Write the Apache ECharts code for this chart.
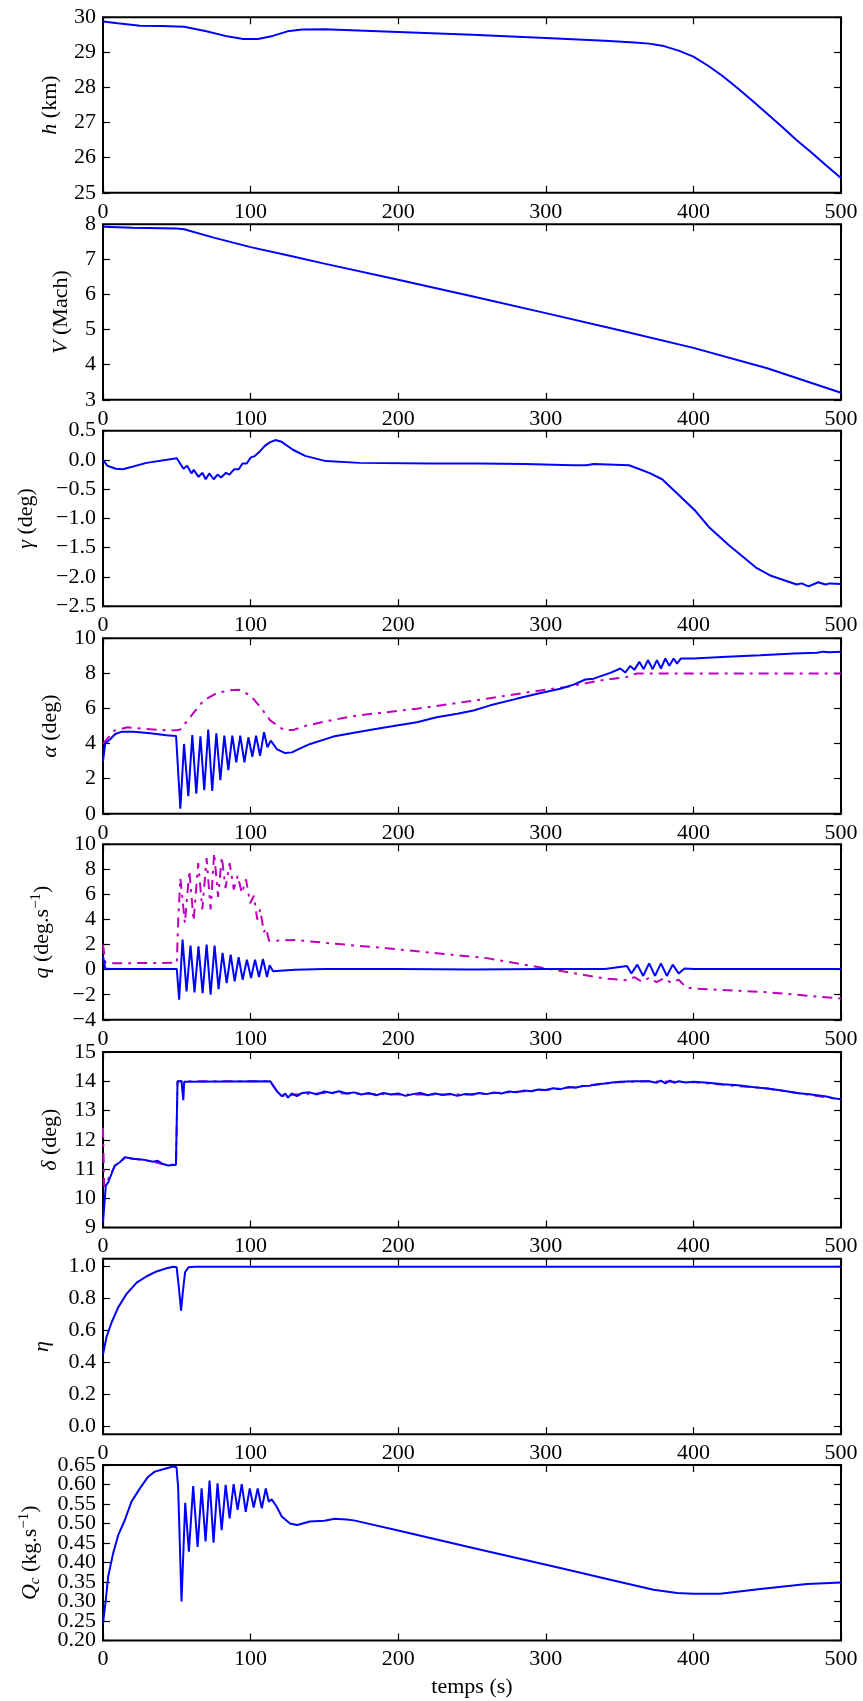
<!DOCTYPE html>
<html><head><meta charset="utf-8">
<script src="https://cdn.jsdelivr.net/npm/echarts@6/dist/echarts.min.js"></script>
<style>html,body{margin:0;padding:0;background:#fff}#c{width:863px;height:1701px}</style>
</head><body><div id="c"></div><script>
// ---------- DATA (time in s, value) ----------
const xTicks = [0, 100, 200, 300, 400, 500];

const hData = [[0,29.88],[10,29.83],[25,29.76],[40,29.75],[55,29.73],[70,29.6],[85,29.45],[95,29.38],[105,29.38],[115,29.47],[125,29.6],[135,29.65],[150,29.66],[200,29.58],[250,29.5],[300,29.41],[340,29.33],[360,29.28],[370,29.25],[380,29.18],[390,29.05],[400,28.88],[410,28.62],[420,28.32],[430,27.98],[440,27.62],[450,27.25],[460,26.88],[470,26.5],[480,26.15],[490,25.78],[500,25.42]];

const machData = [[0,7.93],[20,7.9],[50,7.88],[55,7.86],[75,7.62],[100,7.35],[125,7.12],[150,6.88],[200,6.42],[250,5.95],[300,5.47],[350,4.98],[400,4.48],[450,3.9],[500,3.2]];

const gammaData = [[0,0.0],[3,-0.1],[8.7,-0.15],[13.5,-0.16],[29.5,-0.05],[50,0.03],[54.5,-0.15],[57,-0.1],[60,-0.23],[61.5,-0.17],[64.7,-0.29],[67.3,-0.22],[69.6,-0.33],[72,-0.23],[75,-0.33],[77.6,-0.25],[80,-0.3],[83.3,-0.22],[85.6,-0.25],[88.8,-0.16],[92,-0.16],[94.5,-0.06],[97.4,-0.06],[100,0.04],[103,0.07],[106.4,0.15],[109.6,0.24],[113,0.3],[116.7,0.34],[121,0.31],[129,0.17],[137,0.07],[151,-0.02],[173.7,-0.05],[221.8,-0.06],[253.8,-0.06],[286,-0.07],[318,-0.09],[327.6,-0.09],[332.4,-0.07],[356.4,-0.09],[362.8,-0.15],[370.8,-0.23],[378.8,-0.33],[388.5,-0.56],[401.3,-0.87],[411,-1.16],[423.7,-1.45],[443,-1.85],[452.6,-1.98],[462,-2.06],[470,-2.13],[473.3,-2.11],[478,-2.16],[484.6,-2.09],[489.4,-2.13],[492.6,-2.11],[500,-2.12]];

const alphaData = [[0,3.0],[1.5,4.0],[5,4.26],[8.3,4.55],[12.8,4.68],[20.7,4.68],[32,4.59],[43,4.47],[49.5,4.44],[52.4,0.29],[54.9,3.98],[57.8,1.01],[60.5,4.49],[63.2,1.15],[66,4.42],[68.6,1.34],[71.3,4.8],[74,1.3],[76.8,4.59],[79.5,1.91],[82.2,4.45],[84.9,2.49],[87.6,4.45],[90.3,2.93],[93,4.45],[95.8,2.93],[98.5,4.36],[101.2,3.25],[103.7,4.45],[106.4,3.31],[109.1,4.65],[111.4,3.79],[113.7,4.17],[117.7,3.69],[123.4,3.46],[128,3.5],[133.6,3.73],[140.4,3.98],[156,4.4],[172,4.65],[185.6,4.84],[199,5.03],[212.7,5.22],[226,5.5],[240,5.7],[251,5.89],[262.4,6.18],[280,6.55],[295,6.85],[309.8,7.13],[318.8,7.36],[326.8,7.65],[332.4,7.7],[343.7,8.03],[350.5,8.28],[353.9,8.05],[357.2,8.43],[360,8.2],[363.4,8.66],[366.3,8.24],[369.2,8.76],[372.4,8.24],[375.3,8.76],[378,8.28],[381,8.85],[383.7,8.43],[386.6,8.85],[388.9,8.56],[391.6,8.85],[400,8.85],[422.7,8.95],[445.3,9.04],[468,9.14],[483.7,9.18],[487.9,9.24],[492,9.2],[500,9.24]];

const alphaRef = [[0,4.0],[7.6,4.74],[16.6,4.93],[27.9,4.84],[46,4.74],[50.5,4.78],[52.4,4.8],[59,5.5],[68.2,6.46],[77.2,6.88],[85,7.03],[91.9,7.07],[99.8,6.75],[106.6,6.08],[113.3,5.32],[122.4,4.78],[129,4.78],[138,5.03],[154,5.32],[172,5.6],[192.4,5.79],[212.7,5.99],[233,6.23],[260,6.56],[290,6.95],[314,7.23],[337,7.6],[355,7.8],[361.8,8.0],[500,8.0]];

const qData = [[0,1.1],[1.5,0.1],[5,0.05],[50,0.05],[51.6,-2.4],[53.9,2.4],[56.6,-1.73],[59.3,1.92],[62,-1.81],[64.7,1.87],[67.5,-1.87],[70.2,2.0],[72.9,-2.0],[75.6,1.92],[78.3,-1.55],[81,1.33],[83.8,-1.07],[86.5,1.2],[89.2,-0.93],[91.9,0.99],[94.6,-0.8],[97.5,0.8],[100.3,-0.67],[103,0.8],[105.7,-0.59],[108.4,0.85],[111.1,-0.59],[112.9,0.35],[115.2,-0.13],[120,-0.08],[130,0.0],[150,0.05],[200,0.05],[250,0.02],[300,0.05],[340,0.05],[355,0.3],[358,-0.3],[362,0.4],[366,-0.5],[370,0.5],[374,-0.5],[378,0.5],[382,-0.5],[386,0.4],[390,-0.3],[394,0.1],[400,0.05],[450,0.05],[500,0.05]];

const qRef = [[0,2.0],[1.5,0.6],[3,0.5],[50,0.55],[51,4.0],[52.4,7.3],[55.5,3.7],[58.5,7.9],[61.4,3.9],[64.5,8.5],[67.3,4.8],[70.2,8.9],[72.9,4.8],[75.3,9.3],[78,5.8],[80.5,9.0],[83,6.5],[85.8,8.5],[88.6,6.4],[91.2,7.5],[94.1,6.1],[96.9,7.2],[99.7,5.3],[102.2,5.9],[104.5,4.0],[106.5,4.8],[109,3.0],[110.5,3.3],[112.5,2.3],[115,2.3],[130,2.37],[154,2.1],[192,1.71],[226,1.31],[260,0.92],[305,0.0],[340,-0.7],[355,-0.85],[360,-0.6],[365,-0.95],[370,-0.65],[375,-1.0],[380,-0.7],[385,-1.05],[390,-0.8],[395,-1.4],[400,-1.5],[450,-1.8],[500,-2.3]];

const deltaData = [[0,9.17],[1.9,10.43],[3.5,10.54],[8,11.12],[11.4,11.23],[14.8,11.4],[20.4,11.35],[27.2,11.32],[34,11.25],[37,11.28],[40.7,11.17],[44.1,11.12],[47.5,11.14],[49.4,11.14],[50.5,14.0],[53.2,14.0],[54.4,13.35],[55,13.98],[56,14.0],[113.3,14.0],[117.8,13.66],[121.2,13.49],[123.5,13.58],[125.3,13.44],[128,13.58],[131.4,13.49],[135,13.6],[140,13.62],[145,13.55],[150,13.65],[155,13.6],[160,13.66],[165,13.58],[170,13.62],[175,13.55],[180,13.6],[185,13.52],[190,13.6],[195,13.55],[200,13.58],[205,13.5],[210,13.56],[215,13.6],[220,13.52],[225,13.58],[230,13.53],[235,13.57],[240,13.5],[245,13.56],[250,13.55],[255,13.6],[260,13.56],[265,13.62],[270,13.58],[275,13.65],[280,13.62],[285,13.68],[290,13.66],[295,13.72],[300,13.7],[305,13.76],[310,13.73],[315,13.8],[320,13.78],[325,13.84],[330,13.85],[335,13.9],[340,13.92],[345,13.96],[350,13.98],[360,14.0],[370,14.0],[375,13.95],[378,14.02],[381,13.93],[384,14.02],[387,13.95],[390,14.0],[395,13.96],[400,13.98],[410,13.95],[420,13.9],[430,13.86],[440,13.8],[450,13.75],[460,13.68],[470,13.6],[480,13.55],[490,13.48],[495,13.42],[500,13.38]];

const deltaRef = [[0,12.4],[0.8,10.4],[3,10.6],[8,11.1],[14.8,11.38],[27,11.32],[40,11.17],[49.5,11.14],[50.5,14.0],[113.3,14.0],[118,13.65],[122,13.5],[130,13.55],[150,13.6],[200,13.55],[250,13.55],[300,13.7],[350,13.97],[370,14.0],[400,13.97],[450,13.75],[500,13.38]];

const etaData = [[0,0.45],[2.4,0.56],[5.8,0.65],[10.3,0.745],[16,0.83],[22.8,0.9],[29.6,0.94],[36.3,0.97],[43.1,0.99],[47.6,1.0],[49.9,0.996],[51.5,0.86],[52.9,0.724],[54.3,0.86],[55.6,0.965],[57.9,0.996],[62,1.0],[500,1.0]];
const etaTicks = [0, 0.2, 0.4, 0.6, 0.8, 1.0];

const qcData = [[0,0.244],[1.9,0.304],[3.5,0.364],[6.9,0.424],[10.3,0.47],[14.8,0.509],[19.3,0.556],[25,0.59],[30.6,0.62],[35.1,0.633],[40.8,0.639],[47.5,0.646],[49.8,0.644],[50.9,0.594],[53.2,0.30],[55.7,0.553],[58.2,0.428],[61.1,0.596],[64.1,0.44],[66.8,0.59],[69.5,0.454],[72.2,0.61],[74.9,0.451],[77.6,0.603],[80.4,0.483],[83.1,0.599],[85.8,0.513],[88.5,0.601],[91.2,0.535],[94,0.601],[96.7,0.53],[99.4,0.59],[102.1,0.541],[104.8,0.59],[107.6,0.539],[110.3,0.59],[112.3,0.556],[114.3,0.562],[117.7,0.543],[121.1,0.518],[126.7,0.5],[131.3,0.496],[133.5,0.498],[140,0.505],[150,0.507],[157,0.512],[165,0.51],[170,0.508],[200,0.482],[250,0.438],[309.8,0.386],[343.7,0.356],[373,0.33],[388.9,0.322],[400,0.32],[418.2,0.32],[445.3,0.332],[477,0.345],[500,0.349]];
const qcTicks = [0.20, 0.25, 0.30, 0.35, 0.40, 0.45, 0.50, 0.55, 0.60, 0.65];
const qcLabelsA = [0.20, 0.30, 0.40, 0.50, 0.60];
const qcLabelsB = [0.25, 0.35, 0.45, 0.55, 0.65];

// ---------- LAYOUT / STYLE ----------
const FONT = '"Liberation Serif", "DejaVu Serif", serif';
const BLUE = '#0000ff', MAG = '#bf00bf';
const LEFT = 103, RIGHT = 22, H = 175.5;
const tops = [17.3, 224.3, 430.7, 638.3, 844.3, 1052, 1258.7, 1465];
const minus = s => String(s).replace('-', '\u2212');
const rich = {
  i: {fontFamily: FONT, fontStyle: 'italic', fontSize: 22, color: '#000'},
  sup: {fontFamily: FONT, fontSize: 15, color: '#000', verticalAlign: 'top', lineHeight: 26},
  sub: {fontFamily: FONT, fontStyle: 'italic', fontSize: 15, color: '#000', verticalAlign: 'bottom', lineHeight: 26}
};
const panels = [
  {name: '{i|h} (km)', min: 25, max: 30, interval: 1, gap: 42, fmt: v => String(v), series: [[hData, 'solid']]},
  {name: '{i|V} (Mach)', min: 3, max: 8, interval: 1, gap: 31, fmt: v => String(v), series: [[machData, 'solid']]},
  {name: '{i|γ} (deg)', min: -2.5, max: 0.5, interval: 0.5, gap: 66, fmt: v => minus(v.toFixed(1)), series: [[gammaData, 'solid']]},
  {name: '{i|α} (deg)', min: 0, max: 10, interval: 2, gap: 42, fmt: v => String(v), series: [[alphaRef, 'ref'], [alphaData, 'solid']]},
  {name: '{i|q} (deg.s{sup|\u22121})', min: -4, max: 10, interval: 2, gap: 48, fmt: v => minus(v), series: [[qRef, 'ref'], [qData, 'solid']]},
  {name: '{i|δ} (deg)', min: 9, max: 15, interval: 1, gap: 42, fmt: v => String(v), series: [[deltaRef, 'ref'], [deltaData, 'solid']]},
  {name: '{i|η}', min: -0.05, max: 1.05, interval: 0.2, custom: etaTicks, gap: 50, fmt: v => v.toFixed(1), series: [[etaData, 'solid']]},
  {name: '{i|Q}{sub|c} (kg.s{sup|\u22121})', min: 0.2, max: 0.65, interval: 0.05, custom: qcTicks, labelsA: qcLabelsA, labelsB: qcLabelsB, gap: 60, fmt: v => v.toFixed(2), series: [[qcData, 'solid']]}
];

const grid = [], xAxis = [], yAxis = [], series = [];
const tick = {show: true, inside: true, length: 7, lineStyle: {color: '#000', width: 1.2}};
const labelStyle = {show: true, margin: 7, color: '#000', fontFamily: FONT, fontSize: 22, showMinLabel: true, showMaxLabel: true};
panels.forEach((p, i) => {
  grid.push({left: LEFT, right: RIGHT, top: tops[i], height: H, show: true, borderColor: '#000', borderWidth: 2, backgroundColor: '#fff', containLabel: false});
  const last = i === panels.length - 1;
  xAxis.push({gridIndex: i, type: 'value', min: 0, max: 500, interval: 100, position: 'bottom',
    axisLine: {show: false, onZero: false}, splitLine: {show: false}, axisTick: tick,
    axisLabel: Object.assign({}, labelStyle, {margin: 8}),
    name: last ? 'temps (s)' : '', nameLocation: 'middle', nameGap: 36,
    nameTextStyle: {fontFamily: FONT, fontSize: 22, color: '#000'}});
  xAxis.push({gridIndex: i, type: 'value', min: 0, max: 500, interval: 100, position: 'top',
    axisLine: {show: false, onZero: false}, splitLine: {show: false}, axisTick: tick, axisLabel: {show: false}});
  const yl = {gridIndex: i, type: 'value', min: p.min, max: p.max, interval: p.interval, position: 'left',
    axisLine: {show: false, onZero: false}, splitLine: {show: false},
    axisTick: Object.assign({}, tick),
    axisLabel: Object.assign({}, labelStyle, {formatter: p.fmt}),
    name: p.name, nameLocation: 'middle', nameGap: p.gap, nameRotate: 90,
    nameTextStyle: {fontFamily: FONT, fontSize: 22, color: '#000', rich: rich}};
  const yr = {gridIndex: i, type: 'value', min: p.min, max: p.max, interval: p.interval, position: 'right',
    axisLine: {show: false, onZero: false}, splitLine: {show: false},
    axisTick: Object.assign({}, tick), axisLabel: {show: false}};
  if (p.custom) {
    yl.axisTick.customValues = p.custom; yr.axisTick.customValues = p.custom;
    yl.axisLabel.customValues = p.labelsA || p.custom;
  }
  yAxis.push(yl, yr);
  if (p.labelsB) {
    // second label set on the same left side (avoids automatic overlap hiding)
    yAxis.push({gridIndex: i, type: 'value', min: p.min, max: p.max, interval: p.interval, position: 'left',
      axisLine: {show: false, onZero: false}, splitLine: {show: false}, axisTick: {show: false},
      axisLabel: Object.assign({}, labelStyle, {formatter: p.fmt, customValues: p.labelsB})});
  }
  const yIdx = yAxis.indexOf(yl);
  p.series.forEach(([d, kind]) => {
    series.push({type: 'line', xAxisIndex: 2 * i, yAxisIndex: yIdx, data: d, showSymbol: false, symbol: 'none',
      clip: true, animation: false, silent: true, z: kind === 'ref' ? 2 : 3,
      lineStyle: kind === 'ref' ? {color: MAG, width: 2, type: [10, 6, 3, 6]} : {color: BLUE, width: 2}});
  });
});

const chart = echarts.init(document.getElementById('c'), null, {renderer: 'canvas'});
chart.setOption({backgroundColor: '#fff', animation: false, grid, xAxis, yAxis, series});
</script></body></html>
